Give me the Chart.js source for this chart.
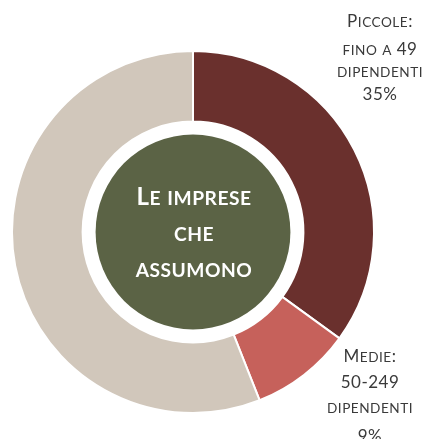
<!DOCTYPE html>
<html>
<head>
<meta charset="utf-8">
<script src="https://cdn.jsdelivr.net/npm/chart.js@4/dist/chart.umd.min.js"></script>
<style>
    html, body { margin: 0; padding: 0; background: #ffffff; overflow: hidden; }
    #wrap { width: 423px; height: 439px; position: relative; }
</style>
</head>
<body>
<div id="wrap"><canvas id="chartImprese"></canvas></div>
<script>
// Data
const categories = ['Piccole: fino a 49 dipendenti', 'Medie: 50-249 dipendenti', 'Altre'];
const shares = [35, 9, 56];
const sliceColors = ['#6A302D', '#C6615B', '#D1C7BB'];

// Label lines for the two annotated slices
const labelPiccole = ['Piccole:', 'fino a 49', 'dipendenti', '35%'];
const labelMedie = ['Medie:', '50-249', 'dipendenti', '9%'];
const centerLines = ['Le imprese', 'che', 'assumono'];

const FONT = 'Lato, "Open Sans", sans-serif';

// Draws a line in small caps: lowercase letters become smaller capitals
const drawSmallCaps = (ctx, text, cx, baseline, size, ratio, weight, spacing) => {
    const parts = [];
    for (const ch of text) {
        const small = ch !== ch.toUpperCase();
        const last = parts[parts.length - 1];
        if (last && last.small === small) {
            last.text += small ? ch.toUpperCase() : ch;
        } else {
            parts.push({ small: small, text: small ? ch.toUpperCase() : ch });
        }
    }
    ctx.letterSpacing = `${spacing}px`;
    let total = 0;
    parts.forEach(p => {
        ctx.font = `${weight} ${p.small ? size * ratio : size}px ${FONT}`;
        p.w = ctx.measureText(p.text).width;
        total += p.w;
    });
    let x = cx - total / 2;
    ctx.textAlign = 'left';
    parts.forEach(p => {
        ctx.font = `${weight} ${p.small ? size * ratio : size}px ${FONT}`;
        ctx.fillText(p.text, x, baseline);
        x += p.w;
    });
    ctx.letterSpacing = '0px';
};

// CENTER CIRCLE + TEXT LOGIC
const centerPlugin = {
    id: 'centerPlugin',
    afterDraw: (chart) => {
        const ctx = chart.ctx;
        const arc = chart.getDatasetMeta(0).data[0];
        const cx = arc.x;
        const cy = arc.y;
        const r = arc.innerRadius - 13;

        ctx.save();
        ctx.beginPath();
        ctx.arc(cx, cy, r, 0, Math.PI * 2);
        ctx.fillStyle = '#5B6345';
        ctx.fill();

        ctx.fillStyle = '#ffffff';
        ctx.textBaseline = 'alphabetic';
        centerLines.forEach((line, i) => {
            drawSmallCaps(ctx, line, cx + 1, cy - 27 + i * 36, 24, 0.8, 'bold', 0.5);
        });

        // outside labels
        ctx.fillStyle = '#3A3A3A';
        const piccoleBase = [27, 55, 77, 100];
        labelPiccole.forEach((line, i) => {
            drawSmallCaps(ctx, line, 380, piccoleBase[i], 17, 0.8, 'normal', 0.5);
        });
        const medieBase = [362, 388, 413, 442];
        labelMedie.forEach((line, i) => {
            drawSmallCaps(ctx, line, 370, medieBase[i], 17, 0.8, 'normal', 0.5);
        });
        ctx.restore();
    }
};

const ctx = document.getElementById('chartImprese').getContext('2d');

new Chart(ctx, {
    type: 'doughnut',
    data: {
        labels: categories,
        datasets: [{
            data: shares,
            backgroundColor: sliceColors,
            borderColor: '#ffffff',
            borderWidth: 2
        }]
    },
    options: {
        responsive: true,
        maintainAspectRatio: false,
        animation: false,
        cutout: '61%',
        layout: {
            padding: { left: 11, top: 50, right: 48, bottom: 25 }
        },
        plugins: {
            legend: { display: false },
            tooltip: { enabled: false }
        }
    },
    plugins: [centerPlugin]
});
</script>
</body>
</html>
